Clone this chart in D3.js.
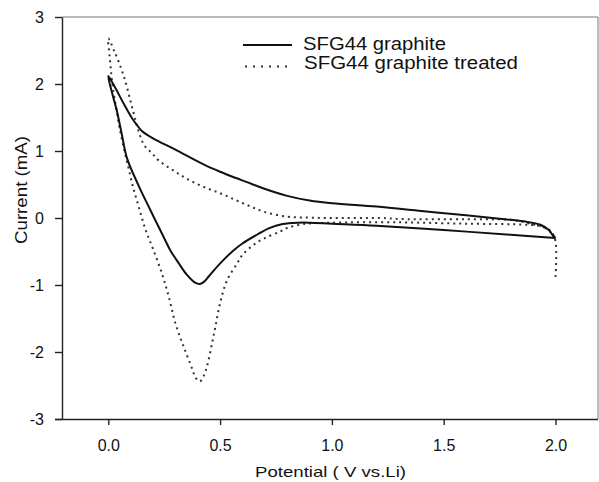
<!DOCTYPE html>
<meta charset="utf-8">
<style>
    body {
        margin: 0;
        background: #fff;
        font-family: "Liberation Sans", Arial, sans-serif;
    }

    .axis path,
    .axis line {
        fill: none;
        stroke: #222;
        stroke-width: 1.4;
    }

    .axis text {
        font-size: 16px;
        fill: #111;
    }
</style>

<body>

    <script src="https://d3js.org/d3.v7.min.js"></script>

    <script>

        // SFG44 graphite: cathodic sweep 2.0 -> 0 V, then anodic sweep back
        var graphiteV = [2.0, 1.8, 1.5, 1.2, 1.0, 0.9, 0.85, 0.78, 0.72, 0.665, 0.6, 0.561, 0.52, 0.486, 0.45, 0.425,
            0.409, 0.39, 0.352, 0.32, 0.277, 0.247, 0.188, 0.136, 0.084, 0.061, 0.039, 0.016, 0.0,
            0.03, 0.07, 0.11, 0.13, 0.15, 0.2, 0.3, 0.426, 0.5, 0.568, 0.62, 0.695, 0.8, 0.9, 1.0,
            1.2, 1.4, 1.6, 1.75, 1.858, 1.933, 1.97, 1.99, 2.0];
        var graphiteI = [-0.30, -0.25, -0.18, -0.115, -0.085, -0.07, -0.07, -0.09, -0.15, -0.25, -0.38, -0.48, -0.61, -0.73, -0.87, -0.96,
            -0.985, -0.97, -0.85, -0.70, -0.48, -0.28, 0.12, 0.48, 0.89, 1.24, 1.59, 1.88, 2.12,
            1.95, 1.70, 1.47, 1.38, 1.30, 1.19, 1.02, 0.80, 0.69, 0.60, 0.535, 0.44, 0.33, 0.26, 0.22,
            0.17, 0.105, 0.04, -0.01, -0.05, -0.10, -0.18, -0.27, -0.30];

        // SFG44 graphite treated
        var treatedV = [2.0, 2.0, 1.98, 1.93, 1.87, 1.6, 1.3, 1.0, 0.874, 0.8, 0.77, 0.7, 0.65, 0.6, 0.576, 0.531,
            0.5, 0.479, 0.464, 0.441, 0.426, 0.409, 0.39, 0.374, 0.337, 0.30, 0.27, 0.24, 0.2, 0.166,
            0.136, 0.11, 0.091, 0.073, 0.05, 0.035, 0.02, 0.012, 0.005, 0.0,
            0.027, 0.068, 0.106, 0.136, 0.162, 0.195, 0.225, 0.3, 0.36, 0.43, 0.5, 0.568, 0.63, 0.695,
            0.8, 0.9, 1.0, 1.217, 1.306, 1.6, 1.81, 1.88, 1.95, 1.98, 2.0];
        var treatedI = [-0.88, -0.35, -0.2, -0.12, -0.10, -0.085, -0.065, -0.07, -0.09, -0.15, -0.20, -0.30, -0.40, -0.55, -0.68, -0.93,
            -1.27, -1.62, -1.87, -2.22, -2.36, -2.44, -2.38, -2.24, -1.92, -1.57, -1.17, -0.83, -0.46, -0.17,
            0.17, 0.47, 0.74, 0.99, 1.35, 1.65, 1.95, 2.2, 2.45, 2.68,
            2.49, 2.13, 1.66, 1.29, 1.08, 0.97, 0.86, 0.69, 0.57, 0.46, 0.37, 0.27, 0.18, 0.094,
            0.02, 0.005, 0.0, 0.0, -0.015, -0.02, -0.03, -0.08, -0.14, -0.22, -0.30];

        var xTicks = [0, 0.5, 1.0, 1.5, 2.0];
        var yTicks = [-3, -2, -1, 0, 1, 2, 3];
        var legendLabels = ["SFG44 graphite", "SFG44 graphite treated"];

        var width = 599, height = 482;
        var plotL = 62, plotR = 598, plotT = 17, plotB = 419;

        var svg = d3.select("body")
            .append("svg")
            .attr("width", width)
            .attr("height", height);

        // scales
        var x = d3.scaleLinear().domain([-0.207, 2.19]).range([plotL, plotR]);
        var y = d3.scaleLinear().domain([-3, 3]).range([plotB, plotT]);

        // frame (top and right, lighter)
        svg.append("path")
            .attr("d", "M" + plotL + "," + plotT + "H" + plotR + "V" + plotB)
            .attr("fill", "none")
            .attr("stroke", "#777")
            .attr("stroke-width", 1);

        // X axis
        svg.append("g")
            .attr("class", "axis")
            .attr("transform", "translate(0," + plotB + ")")
            .call(d3.axisBottom(x).tickValues(xTicks).tickFormat(d3.format(".1f"))
                .tickSizeInner(6).tickSizeOuter(0).tickPadding(14.5))
            .select(".domain").attr("d", "M" + (plotL - 7) + ",0.5H" + plotR);

        // Y axis
        svg.append("g")
            .attr("class", "axis")
            .attr("transform", "translate(" + plotL + ",0)")
            .call(d3.axisLeft(y).tickValues(yTicks).tickFormat(d3.format("d"))
                .tickSizeInner(7).tickSizeOuter(0).tickPadding(11));

        svg.selectAll(".axis text").text(function () {
            return this.textContent.replace("\u2212", "-");
        });

        // axis titles
        svg.append("text")
            .attr("x", 255)
            .attr("y", 477)
            .attr("font-size", "15px")
            .attr("fill", "#111")
            .attr("textLength", 151)
            .attr("lengthAdjust", "spacingAndGlyphs")
            .text("Potential ( V vs.Li)");

        svg.append("text")
            .attr("transform", "translate(27,244) rotate(-90)")
            .attr("font-size", "16px")
            .attr("fill", "#111")
            .attr("textLength", 108)
            .attr("lengthAdjust", "spacingAndGlyphs")
            .text("Current (mA)");

        // curves
        var line = d3.line()
            .x(function (d) { return x(d[0]); })
            .y(function (d) { return y(d[1]); })
            .curve(d3.curveCatmullRom.alpha(0.5));

        var graphite = d3.zip(graphiteV, graphiteI);
        var treated = d3.zip(treatedV, treatedI);

        svg.append("path")
            .datum(treated)
            .attr("d", line)
            .attr("fill", "none")
            .attr("stroke", "#333")
            .attr("stroke-width", 2)
            .attr("stroke-dasharray", "2,4");

        svg.append("path")
            .datum(graphite)
            .attr("d", line)
            .attr("fill", "none")
            .attr("stroke", "#111")
            .attr("stroke-width", 2);

        // legend
        var legend = svg.append("g");
        legend.append("line")
            .attr("x1", 243).attr("x2", 292).attr("y1", 45).attr("y2", 45)
            .attr("stroke", "#111").attr("stroke-width", 2);
        legend.append("line")
            .attr("x1", 245).attr("x2", 292).attr("y1", 66.5).attr("y2", 66.5)
            .attr("stroke", "#333").attr("stroke-width", 2)
            .attr("stroke-dasharray", "2,6");

        legend.append("text")
            .attr("x", 303).attr("y", 50)
            .attr("font-size", "17.5px").attr("fill", "#111")
            .attr("textLength", 143).attr("lengthAdjust", "spacingAndGlyphs")
            .text(legendLabels[0]);
        legend.append("text")
            .attr("x", 304).attr("y", 68.5)
            .attr("font-size", "17.5px").attr("fill", "#111")
            .attr("textLength", 214).attr("lengthAdjust", "spacingAndGlyphs")
            .text(legendLabels[1]);

    </script>
</body>
